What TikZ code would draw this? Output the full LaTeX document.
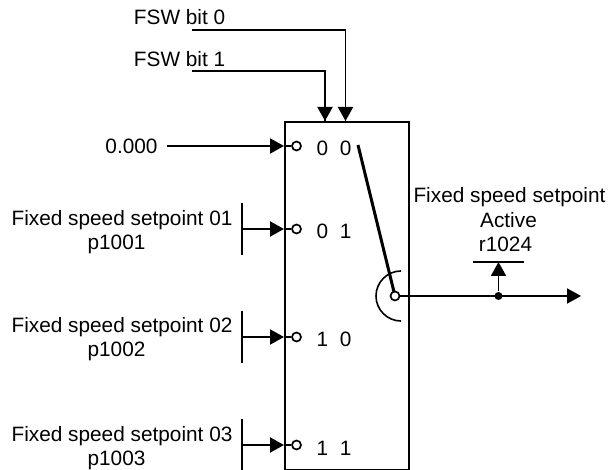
\documentclass[tikz,border=0pt]{standalone}
\usepackage{fontspec}
\setmainfont{Liberation Sans}
\usetikzlibrary{arrows.meta}

\begin{document}
\begin{tikzpicture}[x=1pt,y=-1pt,line width=1.9pt,
    every node/.style={font=\fontsize{20.8}{24}\selectfont,inner sep=0pt},
    tip/.style={-{Triangle[length=14pt,width=15pt]}},
    contact/.style={circle,draw,fill=white,line width=1.7pt,minimum size=9pt}]
    \useasboundingbox (0,0) rectangle (608,470);
    \node (box) [draw,anchor=north west,minimum width=124pt,minimum height=348pt] at (284,121) {};
    \node (bitzero) [anchor=base west] at (133,25) {FSW bit 0};
    \node (bitone) [anchor=base west] at (133,67) {FSW bit 1};
    \node (valzero) [anchor=base] at (131.5,154) {0.000};
    \node (setonea) [anchor=base] at (122,226) {Fixed speed setpoint 01};
    \node (setoneb) [anchor=base] at (116.5,250) {p1001};
    \node (settwoa) [anchor=base] at (122,333) {Fixed speed setpoint 02};
    \node (settwob) [anchor=base] at (116.5,357) {p1002};
    \node (setthreea) [anchor=base] at (122,441) {Fixed speed setpoint 03};
    \node (setthreeb) [anchor=base] at (116.5,465) {p1003};
    \node (codea) [anchor=base] at (334,156) {0\ \ 0};
    \node (codeb) [anchor=base] at (334,239) {0\ \ 1};
    \node (codec) [anchor=base] at (334,347) {1\ \ 0};
    \node (coded) [anchor=base] at (334,455) {1\ \ 1};
    \node (outa) [anchor=base] at (509.5,203) {Fixed speed setpoint};
    \node (outb) [anchor=base] at (508.5,228) {Active};
    \node (outc) [anchor=base] at (505.5,252) {r1024};
    \coordinate (bitzerostart) at (192,30);
    \coordinate (bitonestart) at (192,71);
    \coordinate (bitzeroend) at (345.5,121);
    \coordinate (bitoneend) at (325,121);
    \coordinate (starta) at (167,146);
    \coordinate (startb) at (242,229);
    \coordinate (startc) at (242,337);
    \coordinate (startd) at (242,445);
    \coordinate (edgea) at (284,146);
    \coordinate (edgeb) at (284,229);
    \coordinate (edgec) at (284,337);
    \coordinate (edged) at (284,445);
    \coordinate (levertop) at (358,145);
    \coordinate (outend) at (581,296);
    \coordinate (readtop) at (498.5,262);
    \draw (bitzerostart) -| (bitzeroend);
    \draw (bitonestart) -| (bitoneend);
    \draw [tip] (bitzerostart -| bitzeroend) -- (bitzeroend);
    \draw [tip] (bitonestart -| bitoneend) -- (bitoneend);
    \draw [tip] (starta)--(edgea);
    \draw [tip] (startb)--(edgeb);
    \draw [tip] (startc)--(edgec);
    \draw [tip] (startd)--(edged);
    \draw (242,203)--(242,255);
    \draw (242,311)--(242,363);
    \draw (242,419)--(242,471);
    \node (conta) [contact] at (296.5,146) {};
    \node (contb) [contact] at (296.5,229) {};
    \node (contc) [contact] at (296.5,337) {};
    \node (contd) [contact] at (296.5,445) {};
    \draw (edgea)--(conta);
    \draw (edgeb)--(contb);
    \draw (edgec)--(contc);
    \draw (edged)--(contd);
    \draw [line width=1.6pt] (401,321) arc (90:270:25);
    \draw [line width=3pt] (levertop)--(395,296);
    \node (pivot) [contact] at (395,296) {};
    \draw [tip] (pivot)--(outend);
    \node (dot) [circle,fill=black,minimum size=8pt] at (498.5,296) {};
    \draw [tip] (dot)--(readtop);
    \draw (473,262)--(524,262);
\end{tikzpicture}
\end{document}
